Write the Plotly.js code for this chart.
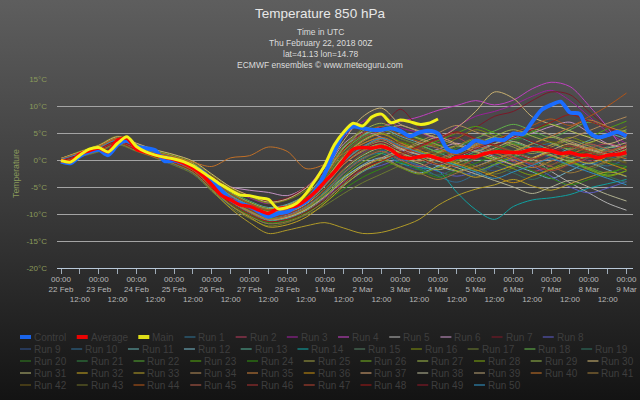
<!DOCTYPE html>
<html><head><meta charset="utf-8">
<script src="https://cdn.plot.ly/plotly-3.0.1.min.js"></script>
<style>
html,body{margin:0;padding:0;width:640px;height:400px;overflow:hidden;background:linear-gradient(to bottom,#5e5e5e 0%,#3b3b3b 50%,#131313 100%);}
#chart{width:640px;height:400px;}
</style></head><body><div id="chart"></div>
<script>
// ---- data (°C) ----
const xDayLabels = ['22 Feb','23 Feb','24 Feb','25 Feb','26 Feb','27 Feb','28 Feb','1 Mar','2 Mar','3 Mar','4 Mar','5 Mar','6 Mar','7 Mar','8 Mar','9 Mar'];
const yTickVals = [-20,-15,-10,-5,0,5,10,15];
const yTickText = ['-20°C','-15°C','-10°C','-5°C','0°C','5°C','10°C','15°C'];

// 6-hourly from 22 Feb 00Z
const mainTemp = [-0.1,-0.4,0.9,2.0,2.3,1.5,3.1,4.3,2.5,1.5,0.9,0.5,0.2,-0.3,-1.1,-2.2,-3.4,-4.6,-5.6,-6.5,-6.6,-7.0,-7.3,-9.0,-8.8,-8.0,-6.2,-3.7,-0.9,2.8,5.2,6.8,6.3,8.0,8.5,6.9,7.4,7.1,6.6,6.8,7.6];
const controlTemp = [-0.3,-0.6,0.7,1.5,1.9,0.9,2.8,3.6,2.5,2.2,1.8,-0.2,-0.1,-0.6,-1.2,-2.2,-3.7,-5.6,-7.4,-8.1,-8.6,-9.6,-10.5,-9.9,-9.6,-8.6,-7.7,-5.6,-2.5,1.5,4.9,6.2,5.9,5.6,5.6,5.9,5.4,4.4,5.1,5.4,4.9,2.0,1.5,2.3,3.6,3.2,3.8,3.7,4.9,4.8,7.1,9.3,10.2,10.8,8.8,8.6,5.2,4.2,4.6,5.2,4.4];
const averageTemp = [-0.1,-0.3,1.1,1.7,2.2,1.5,3.7,4.0,2.0,1.4,0.9,0.5,0.1,-0.6,-1.5,-2.8,-4.6,-6.5,-7.4,-8.3,-8.6,-9.3,-9.9,-9.0,-8.8,-8.5,-7.4,-5.9,-4.0,-2.2,0.0,2.0,2.3,2.2,2.5,1.9,0.6,0.3,0.6,0.8,0.3,-0.1,0.5,0.6,0.6,1.2,1.5,1.5,1.4,1.5,2.0,1.9,1.7,1.2,1.4,0.9,0.9,0.4,0.9,1.0,1.4];

// ensemble runs, 12-hourly from 22 Feb 00Z
const run1  = [0.2,1.3,2.4,3.9,2.6,1.5,0.6,-0.6,-3.5,-6.2,-8.0,-10.2,-10.8,-9.0,-6.0,-2.2,1.2,3.1,2.0,0.8,-1.2,-2.0,-2.8,-1.0,0.4,2.1,3.0,1.2,-0.2,-1.1,0.3];
const run2  = [-0.3,0.8,1.7,3.1,2.1,0.4,-0.6,-2.1,-5.2,-8.1,-10.0,-11.4,-10.2,-8.0,-4.2,1.0,4.1,5.2,3.1,2.0,3.2,4.1,2.2,0.8,-0.3,-2.1,-1.0,1.1,2.2,3.0,2.1];
const run3  = [0.1,1.1,2.6,4.3,3.1,1.6,0.9,-0.4,-3.1,-5.4,-7.0,-8.1,-7.2,-5.1,-1.0,4.2,7.1,8.2,6.0,5.1,4.0,6.2,8.1,9.0,10.2,11.8,12.9,11.0,8.1,5.2,3.0];
const run4  = [0.0,0.9,2.0,3.5,2.0,0.8,0.0,-1.6,-4.1,-6.6,-8.2,-9.1,-8.4,-6.9,-3.0,2.1,5.0,6.2,7.1,8.0,9.2,10.1,11.0,10.2,11.1,13.2,14.4,13.6,10.1,6.0,1.0];
const run5  = [-0.1,1.0,2.1,3.4,2.3,1.0,0.2,-1.3,-4.2,-7.1,-9.0,-10.6,-10.1,-8.6,-6.1,-3.2,-1.1,0.2,1.1,0.1,-1.0,-2.1,-1.2,0.1,1.0,0.2,-2.1,-4.2,-6.1,-8.0,-9.3];
const run6  = [0.2,1.4,2.4,3.8,2.7,1.2,0.3,-1.0,-3.8,-5.0,-5.6,-6.0,-6.6,-5.0,-2.0,3.0,5.1,4.2,2.0,1.1,2.0,3.1,2.2,3.0,4.1,5.0,6.2,7.0,5.1,3.0,2.1];
const run7  = [0.0,1.0,2.2,3.6,2.4,1.1,0.4,-0.8,-3.0,-5.1,-6.5,-7.6,-7.0,-5.0,-2.1,2.0,5.0,6.1,9.4,6.0,5.1,4.0,6.0,8.1,9.0,11.0,12.6,12.1,9.0,6.1,4.0];
const run8  = [-0.1,0.9,1.9,3.3,2.0,0.7,-0.3,-1.8,-4.8,-7.6,-9.5,-10.6,-10.1,-9.0,-7.0,-4.1,-2.0,-1.0,0.1,-1.0,-2.1,-3.0,-2.1,-1.0,0.1,-1.1,-3.0,-5.0,-6.1,-5.2,-4.0];
const run9  = [0.3,1.5,2.7,4.0,2.2,1.3,0.1,-1.2,-4.4,-7.2,-9.1,-10.3,-9.6,-7.8,-4.5,-0.6,1.5,2.0,-0.5,-1.8,-0.2,1.0,-0.8,-2.0,-0.5,1.2,0.4,-1.0,0.6,1.8,0.5];
const run10 = [-0.2,0.7,1.6,3.0,1.8,0.6,-0.8,-2.4,-5.6,-8.5,-10.4,-11.8,-11.0,-9.3,-6.4,-2.5,0.5,1.8,0.2,-1.2,-3.0,-4.1,-2.6,-0.8,1.0,2.5,1.6,0.3,-0.8,0.2,1.2];
const run11 = [0.0,1.2,2.3,3.7,2.5,1.4,0.7,-0.6,-3.2,-5.8,-7.6,-8.8,-8.2,-6.4,-2.6,2.4,4.6,5.8,4.4,3.2,2.2,1.4,2.8,4.2,3.4,2.0,0.8,2.2,3.6,4.8,3.9];
const run12 = [0.1,1.0,2.0,3.3,2.1,0.9,-0.2,-1.7,-4.6,-7.4,-9.4,-11.0,-10.6,-9.1,-6.6,-3.4,-0.9,0.4,-1.2,-2.4,-1.1,0.3,1.8,0.6,-0.9,-2.2,-3.4,-2.0,-0.6,-1.8,-3.1];
const run13 = [-0.2,0.9,1.8,3.2,1.9,0.8,-0.4,-2.0,-5.0,-7.8,-9.8,-11.2,-10.8,-9.4,-7.2,-4.6,-2.2,-0.4,1.2,2.6,1.4,0.2,1.6,3.0,4.4,3.2,1.8,0.4,1.2,2.4,1.6];
const run14 = [0.2,1.3,2.5,3.9,2.8,1.6,0.6,-0.7,-3.4,-6.0,-7.8,-9.2,-9.8,-8.6,-5.8,-2.0,0.4,1.2,-0.6,-1.4,-2.0,-6.0,-9.2,-11.0,-8.6,-7.4,-7.0,-6.4,-5.2,-4.4,-3.6];
const run15 = [0.0,1.1,2.1,3.5,2.2,1.0,0.0,-1.5,-4.5,-7.0,-8.8,-10.0,-9.4,-7.6,-4.0,0.2,2.6,3.4,1.6,0.4,-0.8,0.6,2.0,1.2,0.0,-1.4,-0.2,1.4,2.8,1.8,0.6];
const run16 = [0.3,1.6,2.8,4.4,3.0,1.8,0.9,-0.3,-2.8,-5.2,-6.8,-8.0,-7.4,-5.6,-2.2,2.6,5.8,8.6,5.4,3.8,2.6,4.0,5.6,4.4,3.0,1.6,2.8,4.2,3.2,4.6,6.2];
const run17 = [-0.3,0.6,1.5,2.8,1.6,0.4,-1.0,-2.6,-5.8,-8.8,-10.8,-12.2,-11.6,-10.2,-8.4,-6.2,-4.2,-2.6,-1.0,0.6,1.8,0.4,-1.2,-2.6,-1.4,0.2,1.4,0.0,-1.6,-0.4,0.8];
const run18 = [0.1,1.2,2.2,3.6,2.4,1.2,0.4,-1.0,-3.9,-6.6,-8.4,-9.6,-9.0,-7.0,-3.4,1.6,4.4,5.6,4.0,2.8,1.6,2.6,4.0,5.4,6.6,5.4,4.2,5.6,7.0,6.0,5.2];
const run19 = [0.0,0.9,1.9,3.2,2.0,0.7,-0.4,-1.9,-4.9,-7.8,-9.8,-11.0,-10.4,-8.8,-6.0,-2.6,0.0,1.4,-0.2,-1.6,-2.8,-1.4,0.2,-1.0,-2.4,-3.6,-2.2,-0.8,-1.8,-3.0,-4.2];
const run20 = [0.2,1.4,2.6,4.1,2.9,1.7,0.8,-0.5,-3.3,-5.9,-7.7,-9.0,-8.6,-6.8,-3.0,1.8,4.8,6.4,5.0,4.2,3.0,1.8,0.6,1.8,3.2,4.6,3.4,2.0,0.8,-0.4,-1.2];
const run21 = [-0.1,1.0,2.0,3.4,2.2,1.0,0.1,-1.4,-4.3,-7.2,-9.2,-10.6,-10.0,-8.2,-5.2,-1.6,1.0,2.4,0.6,-0.6,0.8,2.2,3.6,2.4,1.0,-0.4,-1.6,-0.4,0.8,2.0,1.0];
const run22 = [0.0,1.1,2.2,3.6,2.3,1.1,0.2,-1.2,-4.0,-6.8,-8.6,-9.8,-9.2,-7.4,-4.4,-0.4,2.2,3.8,2.4,1.4,0.2,-1.0,0.4,1.8,3.0,2.0,0.8,-0.2,-1.4,-2.4,-1.2];
const run23 = [0.1,1.2,2.3,3.8,2.6,1.4,0.5,-0.9,-3.7,-6.4,-8.2,-9.4,-8.8,-7.0,-3.6,0.8,3.8,5.0,3.4,2.4,3.6,5.0,6.2,5.0,3.8,5.2,6.6,5.4,4.4,5.8,7.2];
const run24 = [-0.2,0.8,1.8,3.1,1.8,0.5,-0.6,-2.2,-5.4,-8.2,-10.2,-11.6,-11.2,-9.8,-7.8,-5.4,-3.2,-1.6,-0.4,-1.8,-3.2,-2.0,-0.6,0.6,-0.8,-2.0,-3.4,-4.6,-3.6,-2.4,-1.4];
const run25 = [0.1,1.1,2.2,3.6,2.4,1.2,0.3,-1.1,-3.9,-6.6,-8.4,-9.6,-9.2,-7.4,-3.8,0.4,3.0,4.0,2.2,1.0,-0.2,1.2,2.6,3.6,2.4,1.2,2.4,3.6,2.6,1.6,2.8];
const run26 = [0.0,1.0,2.0,3.4,2.1,0.9,-0.1,-1.6,-4.6,-7.4,-9.4,-10.8,-10.4,-8.8,-6.2,-3.0,-0.4,1.2,2.6,1.6,0.4,-0.8,-2.0,-0.8,0.6,1.8,0.8,-0.4,-1.6,-2.8,-2.0];
const run27 = [0.2,1.3,2.5,4.0,2.8,1.6,0.7,-0.6,-3.4,-6.0,-7.8,-9.0,-8.4,-6.4,-2.8,2.2,5.4,6.8,5.2,4.0,2.8,1.6,3.0,4.4,5.6,4.4,3.2,2.0,3.2,4.4,5.6];
const run28 = [-0.1,0.9,1.9,3.3,2.0,0.8,-0.3,-1.8,-4.8,-7.6,-9.6,-11.0,-10.6,-9.0,-6.6,-3.6,-1.2,0.0,-1.4,-2.6,-1.4,-0.2,1.0,-0.2,-1.6,-2.8,-1.6,-0.4,-1.8,-3.0,-2.0];
const run29 = [0.0,1.1,2.1,3.5,2.2,1.0,0.0,-1.4,-4.4,-7.0,-8.8,-10.0,-9.4,-7.6,-4.4,-0.6,1.8,3.0,1.4,0.2,1.4,2.6,1.4,0.2,1.6,3.0,4.2,3.0,1.8,0.8,2.0];
const run30 = [0.3,1.5,2.7,4.3,3.1,1.9,1.0,-0.2,-2.6,-5.0,-6.6,-7.8,-7.2,-5.2,-1.4,3.6,8.0,9.6,6.6,5.4,4.2,6.0,9.0,12.6,11.4,8.0,6.6,5.4,4.2,3.0,4.2];
const run31 = [0.1,1.2,2.3,3.7,2.5,1.3,0.4,-1.0,-4.0,-6.8,-8.8,-10.2,-9.8,-8.2,-5.4,-1.8,0.8,2.2,0.6,-0.6,-1.8,-0.6,0.8,2.2,3.4,2.2,1.0,-0.2,1.0,2.2,3.2];
const run32 = [0.0,1.0,2.0,3.3,2.0,0.7,-0.4,-2.0,-5.2,-8.4,-10.6,-12.4,-12.0,-10.6,-8.0,-4.8,-2.0,-0.2,1.4,0.4,-0.8,-2.0,-3.2,-2.2,-1.0,0.2,1.4,0.4,-0.6,0.6,1.8];
const run33 = [-0.2,0.8,1.8,3.2,2.0,0.8,-0.4,-2.2,-5.6,-9.0,-11.6,-13.6,-13.0,-12.2,-11.6,-12.6,-13.6,-13.4,-12.4,-11.0,-8.4,-6.6,-5.4,-4.6,-3.6,-4.8,-5.6,-4.4,-3.2,-2.2,-3.0];
const run34 = [0.1,1.2,2.3,3.7,2.5,1.3,0.3,-1.2,-4.2,-7.0,-9.0,-10.4,-9.8,-8.0,-4.8,-0.8,2.0,3.4,2.0,3.4,5.0,6.4,5.2,4.0,2.8,1.6,2.8,4.0,5.4,6.8,8.0];
const run35 = [0.0,1.1,2.1,3.5,2.2,1.0,0.1,-1.4,-4.3,-7.0,-8.8,-10.2,-9.6,-7.8,-4.6,-0.8,1.6,2.8,1.2,-0.2,1.2,2.6,4.0,2.8,1.6,3.0,4.4,6.0,7.4,6.2,5.0];
const run36 = [0.2,1.3,2.5,3.9,2.7,1.5,0.6,-0.8,-3.6,-6.4,-8.2,-9.6,-9.0,-7.2,-3.8,0.6,3.4,4.8,3.2,1.8,0.6,-0.6,-1.8,-3.0,-4.2,-3.0,-1.8,-0.6,0.6,-0.6,-1.8];
const run37 = [-0.1,0.9,1.9,3.3,2.1,0.9,-0.2,-1.7,-4.7,-7.6,-9.6,-11.0,-10.6,-9.2,-6.8,-3.8,-1.2,0.4,1.8,3.0,4.2,3.0,1.6,0.4,-0.8,0.4,1.8,3.0,2.0,1.0,2.4];
const run38 = [0.0,1.0,2.1,3.5,2.3,1.1,0.2,-1.2,-4.1,-6.8,-8.6,-9.8,-9.2,-7.4,-4.2,-0.2,2.4,3.8,2.2,1.0,-0.2,-1.4,-2.6,-3.8,-5.0,-6.2,-5.0,-3.8,-5.0,-6.4,-7.6];
const run39 = [0.1,1.2,2.2,3.6,2.4,1.2,0.3,-1.1,-4.0,-6.6,-8.4,-9.6,-9.0,-7.2,-3.8,0.6,3.6,5.2,6.4,5.2,4.0,2.8,1.6,3.0,4.4,5.8,4.6,3.4,2.2,1.2,2.6];
const run40 = [0.2,1.4,2.6,4.0,2.6,1.4,0.6,-0.4,-1.2,0.4,0.8,2.4,1.6,-1.6,-0.8,1.2,3.0,4.2,2.8,1.4,0.2,1.4,2.6,1.4,0.0,-1.4,-0.2,1.0,2.2,1.2,0.2];
const run41 = [-0.2,0.7,1.7,3.0,1.7,0.5,-0.7,-2.3,-5.4,-8.4,-10.4,-11.8,-11.4,-10.0,-7.6,-4.4,-1.6,0.2,-1.2,-2.4,-3.6,-2.4,-1.2,0.0,1.2,0.0,-1.2,-2.4,-1.4,-0.2,1.0];
const run42 = [0.0,1.1,2.2,3.6,2.4,1.2,0.2,-1.3,-4.2,-7.0,-9.0,-10.4,-10.0,-8.4,-5.6,-2.0,0.6,2.0,3.4,2.2,1.0,-0.2,-1.4,-0.2,1.0,2.2,3.4,2.4,1.4,0.4,-0.6];
const run43 = [0.1,1.2,2.3,3.7,2.5,1.3,0.4,-1.0,-3.8,-6.4,-8.2,-9.4,-8.8,-7.0,-3.4,1.2,4.2,5.6,4.0,2.6,1.2,2.6,4.0,2.8,1.6,0.4,-0.8,0.4,1.6,0.6,-0.4];
const run44 = [0.2,1.3,2.4,3.9,2.7,1.5,0.5,-0.8,-3.6,-6.2,-8.0,-9.2,-8.6,-6.6,-3.0,1.8,4.8,6.2,4.6,3.4,2.2,1.0,2.4,3.8,5.0,6.4,7.6,6.4,8.0,10.0,12.4];
const run45 = [-0.1,0.9,1.9,3.3,2.0,0.8,-0.3,-1.8,-4.8,-7.6,-9.6,-11.0,-10.4,-8.8,-6.0,-2.4,0.2,1.6,0.0,-1.2,0.2,1.6,3.0,1.8,0.6,-0.6,0.6,1.8,3.0,2.0,1.0];
const run46 = [0.0,1.0,2.0,3.4,2.2,1.0,0.0,-1.5,-4.4,-7.2,-9.2,-10.6,-10.0,-8.4,-5.4,-1.6,1.2,2.6,1.0,2.4,3.8,5.0,3.8,2.6,1.4,0.2,1.4,2.6,1.6,0.6,1.8];
const run47 = [0.1,1.1,2.2,3.6,2.4,1.2,0.3,-1.1,-4.0,-6.8,-8.6,-9.8,-9.2,-7.4,-4.2,-0.2,2.4,3.8,2.4,1.2,0.0,-1.2,0.2,1.6,0.4,-0.8,-2.0,-0.8,0.4,1.6,2.8];
const run48 = [-0.2,0.8,1.8,3.2,1.9,0.6,-0.5,-2.1,-5.2,-8.0,-10.0,-11.4,-11.0,-9.6,-7.2,-4.2,-1.6,-0.2,1.2,2.6,4.0,5.2,4.0,2.8,4.2,5.6,7.0,8.4,7.2,6.0,4.8];
const run49 = [0.0,1.0,2.1,3.5,2.3,1.1,0.1,-1.4,-4.3,-7.0,-8.8,-10.0,-9.4,-7.6,-4.4,-0.6,2.0,3.2,1.6,0.4,-0.8,0.6,2.0,3.4,4.6,3.4,2.2,1.0,-0.2,1.0,2.2];
const run50 = [0.1,1.2,2.3,3.7,2.5,1.3,0.4,-1.0,-3.9,-6.6,-8.4,-9.8,-9.6,-7.8,-4.6,-0.4,2.4,4.0,2.6,1.4,0.2,-1.0,-2.2,-3.4,-2.2,-1.0,0.2,-1.0,-2.2,-3.4,-4.6];

const runs = [run1,run2,run3,run4,run5,run6,run7,run8,run9,run10,run11,run12,run13,run14,run15,run16,run17,run18,run19,run20,run21,run22,run23,run24,run25,run26,run27,run28,run29,run30,run31,run32,run33,run34,run35,run36,run37,run38,run39,run40,run41,run42,run43,run44,run45,run46,run47,run48,run49,run50];
const runColors = ['#2e6e8e','#b03a5a','#9a209a','#c040c0','#b0b0b0','#c090c0','#7a1828','#5a5ac0','#30508a','#306a90',
'#60a8a8','#70b0c0','#50a890','#10a0a0','#507a60','#7a8a10','#6a7a30','#60b048','#307060','#307a20',
'#308040','#50a030','#50a010','#308a10','#9a9a40','#70aa20','#98b048','#78a010','#90b048','#c8b070',
'#b0b070','#c0a020','#b09a28','#b08a58','#c07a38','#c08a10','#d0a070','#b0b090','#b09a70','#c07028',
'#9a7838','#6a5818','#6a6a28','#b05418','#b05a48','#a03030','#b04030','#9a1818','#8a1828','#3090c0'];
const mainNames = ['Control','Average','Main'];
const mainColors = ['#1a6cff','#ff0000','#f2f218'];

// ---- build ----
function t(h){ const d=new Date(Date.UTC(2018,1,22)+h*3600e3); return d.toISOString().slice(0,16).replace('T',' '); }
const traces = [];
runs.forEach((r,i)=>{
  traces.push({x:r.map((_,k)=>t(k*12)), y:r, mode:'lines', name:'Run '+(i+1),
    line:{color:runColors[i], width:1, shape:'spline', smoothing:0.9}, hoverinfo:'skip'});
});
traces.push({x:controlTemp.map((_,k)=>t(k*6)), y:controlTemp, mode:'lines', name:'Control', line:{color:mainColors[0], width:4, shape:'spline', smoothing:0.8}});
traces.push({x:averageTemp.map((_,k)=>t(k*6)), y:averageTemp, mode:'lines', name:'Average', line:{color:mainColors[1], width:3.5, shape:'spline', smoothing:0.8}});
traces.push({x:mainTemp.map((_,k)=>t(k*6)), y:mainTemp, mode:'lines', name:'Main', line:{color:mainColors[2], width:3, shape:'spline', smoothing:0.8}});

const tickvals=[], ticktext=[];
for(let i=0;i<31;i++){
  tickvals.push(t(i*12));
  ticktext.push(i%2===0 ? '00:00<br>'+xDayLabels[i/2] : '\u00a0<br>\u00a0<br>12:00');
}

const L=57, R=633, T=79, B=268, PW=R-L, PH=B-T;
const px2x = p=>(p-L)/PW, py2y = p=>(B-p)/PH;

const annotations = [];
const subs = ['Time in UTC','Thu February 22, 2018 00Z','lat=41.13 lon=14.78','ECMWF ensembles © www.meteoguru.com'];
const subY = [32,43,54,64.5];
subs.forEach((s,i)=>annotations.push({text:s, xref:'paper', yref:'paper', x:px2x(320), y:py2y(subY[i]), xanchor:'center', yanchor:'middle', showarrow:false, font:{size:8.5,color:'#dcdcdc'}}));

// legend (custom, flowing like the original)
const shapes = [];
const ctx = document.createElement('canvas').getContext('2d');
ctx.font = '10px "Liberation Sans"';
const legNames = mainNames.concat(runs.map((_,i)=>'Run '+(i+1)));
const legColors = mainColors.concat(runColors);
const rowCounts=[11,11,11,11,9], rowY=[337,349,361,373,385];
let idx=0;
rowCounts.forEach((n,ri)=>{
  let x=20;
  for(let j=0;j<n;j++,idx++){
    const thick = idx<3;
    const yy = rowY[ri];
    shapes.push({type:'line', xref:'paper', yref:'paper', xsizemode:'pixel', ysizemode:'pixel', xanchor:0, yanchor:0,
      x0:x-L, x1:x-L+11, y0:B-yy, y1:B-yy, opacity: thick?0.9:0.55, line:{color:legColors[idx], width: thick?4:2}});
    annotations.push({text:legNames[idx], xref:'paper', yref:'paper', x:px2x(x+12), y:py2y(yy), xanchor:'left', yanchor:'middle', showarrow:false, font:{size:10,color:'#3e3e3e'}});
    x += 14 + ctx.measureText(legNames[idx]).width + 10.5;
  }
});

const layout = {
  width:640, height:400,
  paper_bgcolor:'rgba(0,0,0,0)', plot_bgcolor:'rgba(0,0,0,0)',
  margin:{l:L, r:640-R, t:T, b:400-B, pad:0},
  font:{family:'"Liberation Sans", Arial, sans-serif', color:'#cccccc'},
  title:{text:'Temperature 850 hPa', font:{size:13.5,color:'#e8e8e8'}, x:0.5, xref:'container', xanchor:'center', y:1-13/400, yref:'container', yanchor:'middle'},
  showlegend:false, hovermode:false,
  xaxis:{type:'date', range:['2018-02-21 21:27','2018-03-09 04:08'], tickmode:'array', tickvals:tickvals, ticktext:ticktext,
    ticks:'outside', ticklen:5, tickcolor:'#a0acb8', showline:true, linecolor:'#b8c8d8', linewidth:1,
    showgrid:false, zeroline:false, tickangle:0, ticklabelstandoff:-2, tickfont:{size:8,color:'#b8b8b8'}},
  yaxis:{range:[-20,15], tickmode:'array', tickvals:yTickVals, ticktext:yTickText, showgrid:true, gridcolor:'#a4a4a4', gridwidth:1,
    zeroline:false, showline:false, ticks:'', ticklabelstandoff:9, tickfont:{size:8,color:'#8a9a5b'},
    title:{text:'Temperature', font:{size:8.7,color:'#8a9a5b'}, standoff:5}},
  annotations:annotations, shapes:shapes
};
Plotly.newPlot('chart', traces, layout, {staticPlot:true, displayModeBar:false});
</script></body></html>
